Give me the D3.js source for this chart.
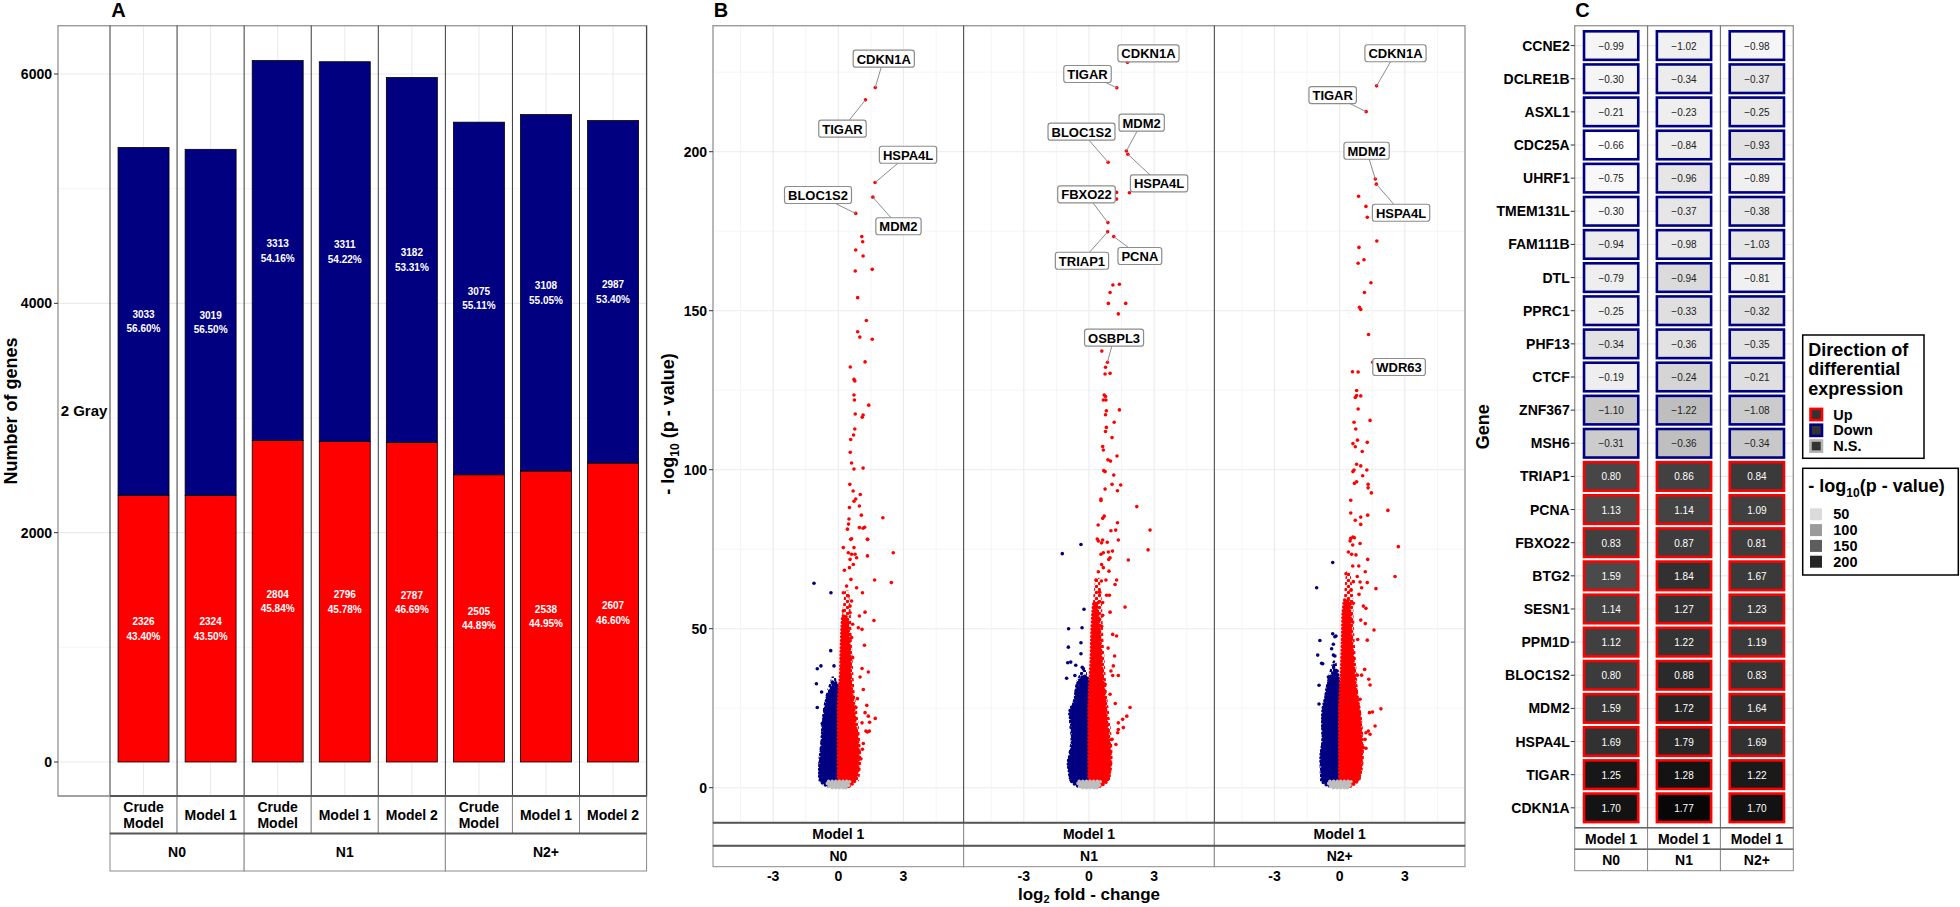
<!DOCTYPE html>
<html>
<head>
<meta charset="utf-8">
<script src="https://cdn.jsdelivr.net/npm/d3@7"></script>
<style>
  body { margin: 0; background: #fff; }
  svg text { font-family: "Liberation Sans", Arial, sans-serif; }
</style>
</head>
<body>
<svg id="fig" width="1960" height="907"></svg>
<script>
// ---------------- Panel A : number of DE genes ----------------
const barModels = ["Crude Model", "Model 1", "Crude Model", "Model 1", "Model 2", "Crude Model", "Model 1", "Model 2"];
const barGroups = ["N0", "N0", "N1", "N1", "N1", "N2+", "N2+", "N2+"];
const upCounts = [2326, 2324, 2804, 2796, 2787, 2505, 2538, 2607];
const downCounts = [3033, 3019, 3313, 3311, 3182, 3075, 3108, 2987];
const upPct = ["43.40%", "43.50%", "45.84%", "45.78%", "46.69%", "44.89%", "44.95%", "46.60%"];
const downPct = ["56.60%", "56.50%", "54.16%", "54.22%", "53.31%", "55.11%", "55.05%", "53.40%"];
const geneTicks = [0, 2000, 4000, 6000];

// ---------------- Panel B : volcano plots ----------------
const volcFacets = ["N0", "N1", "N2+"];
const fcTicks = [-3, 0, 3];
const pTicks = [0, 50, 100, 150, 200];

// solid clouds: [ -log10 p, log2FC left edge, log2FC right edge ]
const coreUpN0 = [[0.5,0,0.5],[2,0,0.75],[5,0,0.88],[10,0,0.92],[15,0,0.88],[20,0,0.78],[25,0,0.7],[30,0.03,0.62],[35,0.1,0.55],[40,0.12,0.55],[45,0.14,0.5],[50,0.17,0.45],[54,0.2,0.35]];
const coreDownN0 = [[0.5,-0.5,0],[2,-0.8,0],[5,-0.86,0],[10,-0.8,0],[15,-0.74,0],[20,-0.7,0],[24,-0.62,0],[28,-0.52,0],[31,-0.35,-0.03],[33,-0.2,-0.08]];
const coreUpN1 = [[0.5,0,0.5],[2,0,0.82],[5,0,0.95],[10,0,0.97],[15,0,0.92],[20,0,0.82],[25,0,0.76],[30,0.02,0.7],[35,0.06,0.62],[40,0.1,0.56],[45,0.12,0.52],[50,0.14,0.47],[55,0.18,0.4],[58,0.22,0.32]];
const coreDownN1 = [[0.5,-0.5,0],[2,-0.8,0],[5,-0.9,0],[8,-0.95,0],[12,-0.8,0],[16,-0.76,0],[20,-0.8,0],[24,-0.88,0],[27,-0.66,0],[30,-0.6,0],[33,-0.5,-0.03],[35,-0.3,-0.1]];
const coreUpN2 = [[0.5,0,0.5],[2,0,0.8],[5,0,0.95],[10,0,1.0],[15,0,1.0],[20,0,0.95],[25,0,0.88],[30,0.03,0.76],[35,0.07,0.68],[40,0.1,0.62],[45,0.12,0.56],[50,0.14,0.5],[55,0.16,0.47],[59,0.22,0.4]];
const coreDownN2 = [[0.5,-0.5,0],[2,-0.8,0],[5,-0.82,0],[10,-0.86,0],[15,-0.76,0],[20,-0.78,0],[25,-0.76,0],[28,-0.65,0],[32,-0.55,-0.02],[35,-0.4,-0.08],[37,-0.25,-0.12]];
const coreNS = [[0,-0.35,0.35],[0.5,-0.45,0.45],[1.2,-0.5,0.5],[2,-0.52,0.52]];
// looser (dotted) zone around the solid clouds
const haloUpN0 = [[2,0,0.95],[8,0,1.05],[15,0,1.0],[22,0,0.9],[30,0.05,0.75],[40,0.1,0.66],[50,0.15,0.6],[56,0.2,0.56],[62,0.3,0.48]];
const haloDownN0 = [[2,-0.9,0],[8,-0.92,0],[15,-0.82,0],[22,-0.75,0],[28,-0.62,0],[32,-0.45,-0.05],[35,-0.3,-0.12]];
const haloUpN1 = [[2,0,0.95],[8,0,1.08],[15,0,1.05],[22,0,0.95],[30,0.04,0.82],[40,0.1,0.72],[50,0.15,0.64],[60,0.2,0.58],[66,0.3,0.48]];
const haloDownN1 = [[2,-0.9,0],[8,-1.0,0],[15,-0.85,0],[22,-0.92,0],[28,-0.72,0],[33,-0.6,-0.03],[37,-0.35,-0.12]];
const haloUpN2 = [[2,0,0.95],[8,0,1.1],[15,0,1.1],[22,0,1.02],[30,0.04,0.85],[40,0.1,0.75],[50,0.15,0.66],[62,0.22,0.6],[68,0.3,0.48]];
const haloDownN2 = [[2,-0.9,0],[8,-0.92,0],[15,-0.84,0],[22,-0.84,0],[28,-0.72,0],[33,-0.6,-0.03],[37,-0.45,-0.1],[40,-0.3,-0.15]];

// single genes outside the dense cloud: [log2FC, -log10 p]
const volUpN0 = [[1.08,173.3],[1.12,171.7],[0.80,169.1],[1.14,167.2],[0.78,162.5],[1.56,163.0],[0.89,154.1],
  [1.29,146.9],[0.89,143.4],[0.99,141.7],[1.56,141.0],[1.23,133.9],[0.55,132.3],[0.72,128.4],[0.76,127.9],[0.72,123.5],[0.74,121.9],[1.40,120.3],[0.78,117.5],[1.14,117.2],[1.10,116.5],[0.76,112.8],[0.70,110.9],[0.57,109.5],[0.55,105.5],[0.61,102.1],[0.72,100.2],[1.14,100.5],[0.53,95.4],[0.68,93.3],[1.01,92.2],[0.80,90.8],[0.72,90.1],[0.97,88.6],[0.51,88.1],[1.06,85.7],[2.05,84.9],[0.49,84.5],[0.47,82.9],[0.42,81.3],[0.97,81.8],[1.14,81.6],[1.21,81.9],[0.61,78.3],[1.35,78.1],
  [0.57,78.1],[1.34,78.1],[0.72,75.5],[0.23,75.5],[1.34,72.9],[2.53,73.9],[0.46,73.9],[0.61,73.4],[0.84,72.3],[0.77,73.4],[0.28,68.4],[0.51,69.2],[0.69,70.2],[0.54,71.8],[0.58,65.5],[0.38,63.4],[0.84,62.9],[1.11,61.3],[1.67,65.3],[2.44,64.5],[0.23,61.3],[0.46,60.3],[0.61,58.7],[0.54,57.1],[0.23,55.6],[0.54,55.0],[0.97,54.0],[1.23,55.2],[1.64,52.6],[0.26,52.9],[0.46,51.9],[0.66,51.4],[0.92,50.3],[1.09,49.8],[0.23,48.7],[0.38,46.6],[0.61,47.2],[1.2,44.8],[0.23,43.5],[0.54,42.5],[0.66,40.9],[1.09,37.5],[1.38,36.4],[1.0,34.8],[1.15,30.9],[1.31,25.9],[1.23,23.6],[1.38,22.5],[1.70,21.8],[1.44,20.6],[1.09,20.4],[0.88,28.0],[0.81,25.2],[1.27,17.8],[1.43,17.8],[1.34,17.5],[1.15,13.9],[0.88,16.9],[1.11,12.1],[1.04,9.1],[0.97,11.0]];
const volDownN0 = [[-1.12,64.3],[-0.34,61.3],[-0.35,43.1],[-0.80,38.3],[-0.97,37.4],[-0.20,38.3],[-1.01,32.7],[-0.28,33.2],[-0.77,30.1],[-0.97,25.2],[-0.74,20.2],[-0.84,6.8]];

const volUpN1 = [[1.86,187.1],[1.27,187.2],[1.27,185.1],[1.10,158.1],[1.40,158.3],[0.97,155.7],
  [0.89,152.3],[1.69,152.3],[1.35,149.0],[0.59,137.3],[0.76,132.2],[0.74,130.1],[0.97,130.3],[0.70,123.5],[0.76,123.0],[0.66,121.9],[0.78,121.9],[1.40,118.8],[0.80,118.5],[0.76,117.3],[1.16,114.9],[0.80,113.3],[0.76,112.0],[1.06,110.1],[0.63,107.3],[0.66,106.2],[1.29,104.3],[0.87,103.1],[0.99,102.7],[0.68,99.7],[0.74,99.4],[1.14,98.3],[1.06,95.4],[1.46,95.2],[0.74,93.9],[1.31,93.4],[0.55,90.8],[0.55,90.3],[2.20,88.4],[0.70,85.4],[0.63,84.7],[1.31,83.3],[0.42,82.6],[1.23,81.0],[1.01,80.8],[2.81,81.0],[0.38,78.2],[0.63,77.9],
  [0.43,77.6],[0.58,77.0],[0.84,77.2],[1.35,77.9],[2.72,74.8],[0.66,73.9],[0.89,74.1],[1.08,74.4],[0.55,73.4],[0.97,72.3],[0.91,71.8],[1.81,71.6],[0.58,70.2],[0.92,68.1],[0.43,67.9],[0.66,69.2],
  [0.32,65.3],[0.57,65.0],[0.78,65.3],[1.27,65.3],[1.20,63.9],[0.49,61.5],[0.81,60.5],[0.94,60.5],[0.63,58.2],[0.43,58.2],[0.28,56.6],[1.66,56.8],[0.97,55.2],[0.63,54.2],[0.48,52.9],[0.58,50.8],[0.28,51.4],[1.09,48.2],[1.27,47.7],[0.88,43.9],[1.18,41.4],[1.12,38.3],[1.01,36.7],[1.35,35.3],[1.09,35.3],[0.74,32.5],[0.97,29.4],[1.21,26.5],[1.89,25.2],[1.74,22.5],[1.55,21.5],[1.35,20.4],[1.58,18.9],[1.35,18.3],[1.32,17.3],[1.06,15.2],[1.24,13.6],[0.97,11.0],[0.94,7.3]];
const volDownN1 = [[-0.37,76.5],[-1.23,73.6],[-0.23,56.1],[-0.94,50.0],[-0.32,50.3],[-0.95,44.2],[-0.37,45.6],[-0.37,42.1],[-0.98,39.3],[-0.84,39.5],[-0.61,38.5],[-0.31,37.9],[-0.26,37.4],[-1.03,34.4],[-0.65,35.3]];

const volUpN2 = [[0.87,186.0],[1.21,182.8],[1.27,179.4],[1.71,171.9],[0.89,169.9],[1.12,166.0],[0.85,164.9],[1.44,158.8],[1.14,155.7],
  [0.91,151.1],[0.97,150.4],[1.33,142.5],[0.59,130.8],[0.85,130.7],[0.78,124.9],[0.78,123.3],[0.97,123.2],[0.72,122.7],[0.85,119.1],[1.40,115.5],[0.66,114.9],[0.74,112.8],[0.82,109.3],[0.61,108.2],[0.72,107.2],[1.27,108.6],[1.04,105.7],[0.78,101.7],[0.97,101.2],[0.66,99.9],[0.61,99.4],[1.06,98.1],[1.25,99.9],[0.68,95.7],[0.78,96.2],[1.31,95.4],[1.31,94.3],[1.46,92.7],[0.51,90.4],[0.51,86.4],[0.72,84.1],[0.97,85.1],[1.29,85.7],[0.97,82.8],[2.22,87.2],[0.51,78.4],[0.61,78.8],[0.68,78.6],
  [0.48,77.6],[0.94,76.8],[0.60,76.3],[0.40,74.1],[0.55,73.4],[0.75,73.2],[2.70,75.8],[1.29,71.8],[0.6,69.7],[0.88,69.7],[1.18,67.9],[0.29,67.3],[0.81,66.4],[0.63,64.8],[0.94,64.7],[1.27,64.5],[2.55,66.4],[1.67,62.6],[0.52,62.1],[1.01,62.9],[0.89,60.8],[0.29,57.3],[0.48,57.7],[0.63,58.0],[1.09,57.1],[1.21,56.4],[0.4,55.6],[0.52,54.5],[0.4,53.5],[0.97,52.7],[1.18,51.6],[0.6,52.1],[1.58,49.6],[1.27,46.4],[0.83,46.6],[1.15,37.2],[0.81,35.4],[1.01,35.4],[1.34,34.1],[1.40,32.3],[0.94,27.8],[0.81,26.2],[0.75,24.6],[1.37,23.6],[1.51,23.8],[1.9,24.8],[0.86,22.5],[1.63,19.4],[1.32,17.8],[1.21,17.3],[1.40,16.8],[1.17,15.2],[0.94,14.2],[1.09,12.6],[1.21,12.4],[0.98,8.9]];
const volDownN2 = [[-0.32,70.8],[-1.06,62.9],[-0.32,48.4],[-0.22,47.5],[-0.17,47.7],[-0.91,46.3],[-0.37,43.7],[-0.29,45.1],[-1.01,41.7],[-0.29,41.7],[-0.22,41.4],[-0.83,39.1],[-0.78,39.0],[-0.26,38.5],[-0.52,34.8],[-0.37,34.3],[-0.45,34.9],[-0.95,32.2],[-0.95,26.3],[-0.81,11.4]];

// labelled genes: [gene, log2FC, -log10 p]
const labN0 = [["CDKN1A",1.70,220.2],["TIGAR",1.25,216.3],["HSPA4L",1.69,190.3],["MDM2",1.59,185.7],["BLOC1S2",0.80,180.6]];
const labN1 = [["CDKN1A",1.77,228.1],["TIGAR",1.28,220.1],["MDM2",1.72,200.2],["HSPA4L",1.79,199.2],["BLOC1S2",0.88,196.7],["FBXO22",0.87,177.7],["TRIAP1",0.86,174.8],["PCNA",1.14,173.3],["OSBPL3",0.85,133.8]];
const labN2 = [["CDKN1A",1.70,220.7],["TIGAR",1.22,212.6],["MDM2",1.64,191.4],["HSPA4L",1.69,189.8],["WDR63",1.52,133.8]];

// ---------------- Panel C : heatmap ----------------
const heatGroups = ["N0", "N1", "N2+"];
const genes = ["CCNE2","DCLRE1B","ASXL1","CDC25A","UHRF1","TMEM131L","FAM111B","DTL","PPRC1","PHF13","CTCF","ZNF367","MSH6",
  "TRIAP1","PCNA","FBXO22","BTG2","SESN1","PPM1D","BLOC1S2","MDM2","HSPA4L","TIGAR","CDKN1A"];
const fcN0 = [-0.99,-0.30,-0.21,-0.66,-0.75,-0.30,-0.94,-0.79,-0.25,-0.34,-0.19,-1.10,-0.31,0.80,1.13,0.83,1.59,1.14,1.12,0.80,1.59,1.69,1.25,1.70];
const fcN1 = [-1.02,-0.34,-0.23,-0.84,-0.96,-0.37,-0.98,-0.94,-0.33,-0.36,-0.24,-1.22,-0.36,0.86,1.14,0.87,1.84,1.27,1.22,0.88,1.72,1.79,1.28,1.77];
const fcN2 = [-0.98,-0.37,-0.25,-0.93,-0.89,-0.38,-1.03,-0.81,-0.32,-0.35,-0.21,-1.08,-0.34,0.84,1.09,0.81,1.67,1.23,1.19,0.83,1.64,1.69,1.22,1.70];
const pN0 = [31,31,31,24,29,29,38,36,35,45,36,64,61,170,167,176,167,173,176,180,185,190,216,220];
const pN1 = [35,38,36,37,42,42,40,50,47,45,55,72,71,175,173,178,190,187,187,197,200,199,220,228];
const pN2 = [31,42,40,45,35,42,42,35,47,45,47,62,64,181,176,178,181,181,181,186,191,190,213,221];
const dirLevels = ["Up", "Down", "N.S."];
const pLegend = [50, 100, 150, 200];

// ---------------- drawing ----------------
const RED = "#ff0000", NAVY = "#000080", GREY_NS = "#bebebe";
const svg = d3.select("#fig");

// dot textures for the looser part of the clouds
const defs = svg.append("defs");
[["dotsRed", RED], ["dotsNavy", NAVY]].forEach(([id, col]) => {
  const p = defs.append("pattern").attr("id", id).attr("patternUnits", "userSpaceOnUse").attr("width", 6).attr("height", 6);
  p.append("circle").attr("cx", 1.5).attr("cy", 1.5).attr("r", 1.75).attr("fill", col);
  p.append("circle").attr("cx", 4.5).attr("cy", 4.5).attr("r", 1.75).attr("fill", col);
});

function label(g, x, y, s, size, weight, anchor, fill) {
  return g.append("text").attr("x", x).attr("y", y).text(s)
    .attr("font-size", size).attr("font-weight", weight || "bold")
    .attr("text-anchor", anchor || "middle").attr("dominant-baseline", "central")
    .attr("fill", fill || "#000");
}

function stripCells(g, cells, y0, y1, size) {
  cells.forEach(c => {
    g.append("rect").attr("x", c.x0).attr("y", y0).attr("width", c.x1 - c.x0).attr("height", y1 - y0)
      .attr("fill", "#fff").attr("stroke", "#8a8a8a").attr("stroke-width", 1);
    const lines = c.text.split("\n");
    lines.forEach((l, k) => label(g, (c.x0 + c.x1) / 2, (y0 + y1) / 2 + (k - (lines.length - 1) / 2) * 15.5, l, size));
  });
}

function groupCells(groups, xStart, xEnd) {
  const out = [];
  groups.forEach((grp, i) => {
    const last = out[out.length - 1];
    if (last && last.text === grp) last.x1 = xEnd(i);
    else out.push({ text: grp, x0: xStart(i), x1: xEnd(i) });
  });
  return out;
}

// ===== Panel A =====
const A = { left: 58, x0: 110, right: 646.6, top: 25.7, bottom: 796 };
const gA = svg.append("g");
const aX = d3.scaleBand().domain(d3.range(upCounts.length)).range([A.x0, A.right]);
const aY = d3.scaleLinear().domain([0, 6000]).range([762, 74]);
const bars = d3.range(upCounts.length).map(i => ({
  i, up: upCounts[i], down: downCounts[i], upPct: upPct[i], downPct: downPct[i]
}));

gA.selectAll(".ming").data([1000, 3000, 5000]).join("line")
  .attr("x1", A.left).attr("x2", A.right).attr("y1", d => aY(d)).attr("y2", d => aY(d))
  .attr("stroke", "#f3f3f3").attr("stroke-width", 0.8);
gA.selectAll(".majg").data(geneTicks).join("line")
  .attr("x1", A.left).attr("x2", A.right).attr("y1", d => aY(d)).attr("y2", d => aY(d))
  .attr("stroke", "#ebebeb").attr("stroke-width", 1.1);
gA.selectAll(".vg").data(bars).join("line")
  .attr("x1", d => aX(d.i) + aX.bandwidth() / 2).attr("x2", d => aX(d.i) + aX.bandwidth() / 2)
  .attr("y1", A.top).attr("y2", A.bottom).attr("stroke", "#ebebeb").attr("stroke-width", 1.1);

const bw = aX.bandwidth() * 0.76;
gA.selectAll(".barUp").data(bars).join("rect")
  .attr("x", d => aX(d.i) + (aX.bandwidth() - bw) / 2).attr("width", bw)
  .attr("y", d => aY(d.up)).attr("height", d => aY(0) - aY(d.up))
  .attr("fill", RED).attr("stroke", "#000").attr("stroke-width", 0.8);
gA.selectAll(".barDown").data(bars).join("rect")
  .attr("x", d => aX(d.i) + (aX.bandwidth() - bw) / 2).attr("width", bw)
  .attr("y", d => aY(d.up + d.down)).attr("height", d => aY(d.up) - aY(d.up + d.down))
  .attr("fill", NAVY).attr("stroke", "#000").attr("stroke-width", 0.8);

bars.forEach(d => {
  const cx = aX(d.i) + aX.bandwidth() / 2;
  const yu = aY(d.up / 2), yd = aY(d.up + d.down / 2);
  label(gA, cx, yd - 7, d.down, 10, "bold", "middle", "#fff");
  label(gA, cx, yd + 7.5, d.downPct, 10, "bold", "middle", "#fff");
  label(gA, cx, yu - 7, d.up, 10, "bold", "middle", "#fff");
  label(gA, cx, yu + 7.5, d.upPct, 10, "bold", "middle", "#fff");
});

// frame and facet dividers
gA.append("rect").attr("x", A.left).attr("y", A.top).attr("width", A.right - A.left).attr("height", A.bottom - A.top)
  .attr("fill", "none").attr("stroke", "#9a9a9a").attr("stroke-width", 1.4);
gA.selectAll(".div").data(d3.range(upCounts.length + 1)).join("line")
  .attr("x1", i => A.x0 + i * aX.step()).attr("x2", i => A.x0 + i * aX.step())
  .attr("y1", A.top).attr("y2", A.bottom).attr("stroke", "#3a3a3a").attr("stroke-width", 1);
label(gA, 84, (A.top + A.bottom) / 2, "2 Gray", 15, "bold");

// y axis
gA.selectAll(".tk").data(geneTicks).join("line")
  .attr("x1", A.left - 4).attr("x2", A.left).attr("y1", d => aY(d)).attr("y2", d => aY(d))
  .attr("stroke", "#333").attr("stroke-width", 1);
geneTicks.forEach(t => label(gA, A.left - 6, aY(t), t, 14, "bold", "end"));
label(gA, 11, 411, "Number of genes", 18, "bold").attr("transform", "rotate(-90,11,411)");

// strips
stripCells(gA, bars.map(d => ({ text: barModels[d.i].replace("Crude ", "Crude\n"), x0: aX(d.i), x1: aX(d.i) + aX.bandwidth() })), 796, 833.5, 14);
stripCells(gA, groupCells(barGroups, i => aX(i), i => aX(i) + aX.bandwidth()), 833.5, 871, 14);
[796, 833.5].forEach(y => gA.append("line").attr("x1", A.x0).attr("x2", A.right).attr("y1", y).attr("y2", y)
  .attr("stroke", "#555").attr("stroke-width", 2));
gA.append("line").attr("x1", A.left).attr("x2", A.x0).attr("y1", A.bottom).attr("y2", A.bottom).attr("stroke", "#9a9a9a").attr("stroke-width", 1.4);
label(svg, 118.5, 10, "A", 20, "bold");

// ===== Panel B =====
const B = { left: 713, right: 1465, top: 25.7, bottom: 822.7 };
const gB = svg.append("g");
const bFacet = d3.scaleBand().domain(volcFacets).range([B.left, B.right]);
const bY = d3.scaleLinear().domain([0, 200]).range([787.7, 151.7]);
const bXof = f => d3.scaleLinear().domain([-5.77, 5.77]).range([bFacet(f), bFacet(f) + bFacet.bandwidth()]);

const volc = {
  "N0": { up: volUpN0, down: volDownN0, coreUp: coreUpN0, coreDown: coreDownN0, haloUp: haloUpN0, haloDown: haloDownN0, lab: labN0 },
  "N1": { up: volUpN1, down: volDownN1, coreUp: coreUpN1, coreDown: coreDownN1, haloUp: haloUpN1, haloDown: haloDownN1, lab: labN1 },
  "N2+": { up: volUpN2, down: volDownN2, coreUp: coreUpN2, coreDown: coreDownN2, haloUp: haloUpN2, haloDown: haloDownN2, lab: labN2 }
};
// label placement (pixels from the point), as ggrepel left them
const labelNudge = {
  "N0": { CDKN1A: [8.5, -28.8], TIGAR: [-23, 28.8], HSPA4L: [33, -27.8], MDM2: [25.6, 29.1], BLOC1S2: [-37.7, -18.4] },
  "N1": { CDKN1A: [21, -9], TIGAR: [-29.3, -13.8], MDM2: [15.3, -28.4], HSPA4L: [31.2, 29.1], BLOC1S2: [-26.6, -30.5],
          FBXO22: [-21.4, -28.3], TRIAP1: [-25.7, 28.9], PCNA: [26.1, 19.4], OSBPL3: [6.6, -24.5] },
  "N2+": { CDKN1A: [18.9, -32.6], TIGAR: [-33.5, -16.6], MDM2: [-8.7, -28.3], HSPA4L: [24.7, 28.6], WDR63: [26.4, 4.8] }
};

const yMinor = d3.range(0, 226, 25);
const xGrid = [-4.5, -3, -1.5, 0, 1.5, 3, 4.5];
volcFacets.forEach(f => {
  const x = bXof(f), g = gB.append("g");
  g.selectAll(".hg").data(yMinor).join("line")
    .attr("x1", bFacet(f)).attr("x2", bFacet(f) + bFacet.bandwidth()).attr("y1", d => bY(d)).attr("y2", d => bY(d))
    .attr("stroke", d => d % 50 === 0 ? "#ebebeb" : "#f3f3f3").attr("stroke-width", d => d % 50 === 0 ? 1.1 : 0.8);
  g.selectAll(".vg").data(xGrid).join("line")
    .attr("x1", d => x(d)).attr("x2", d => x(d)).attr("y1", B.top).attr("y2", B.bottom)
    .attr("stroke", d => d % 3 === 0 ? "#ebebeb" : "#f3f3f3").attr("stroke-width", d => d % 3 === 0 ? 1.1 : 0.8);

  const area = d3.area().curve(d3.curveCatmullRom).y(d => bY(d[0])).x0(d => x(d[1])).x1(d => x(d[2]));
  const v = volc[f];
  // loose dotted zone
  [[v.haloDown, "url(#dotsNavy)"], [v.haloUp, "url(#dotsRed)"]].forEach(([rows, fill]) => {
    g.append("path").datum(rows).attr("d", area).attr("fill", fill);
  });
  // solid clouds with a dotted rim
  [[v.coreDown, NAVY], [v.coreUp, RED], [coreNS, GREY_NS]].forEach(([rows, col]) => {
    g.append("path").datum(rows).attr("d", area).attr("fill", col);
    g.append("path").datum(rows).attr("d", area).attr("fill", "none")
      .attr("stroke", col).attr("stroke-width", 3.6).attr("stroke-linecap", "round").attr("stroke-dasharray", "0,3.6");
  });
  g.selectAll(".pd").data(v.down).join("circle")
    .attr("cx", d => x(d[0])).attr("cy", d => bY(d[1])).attr("r", 1.8).attr("fill", NAVY);
  g.selectAll(".pu").data(v.up.concat(v.lab.map(d => [d[1], d[2]]))).join("circle")
    .attr("cx", d => x(d[0])).attr("cy", d => bY(d[1])).attr("r", 1.8).attr("fill", RED);

  // repel-style labels
  v.lab.forEach(([name, fc, p]) => {
    const px = x(fc), py = bY(p);
    const nd = labelNudge[f][name];
    const cx = px + nd[0], cy = py + nd[1];
    const t = label(g, cx, cy + 0.5, name, 13, "bold");
    const w = t.node().getComputedTextLength() + 7, h = 17;
    const dx = px - cx, dy = py - cy;
    const s = Math.min(Math.abs(dx) > 0 ? (w / 2) / Math.abs(dx) : Infinity, Math.abs(dy) > 0 ? (h / 2) / Math.abs(dy) : Infinity);
    if (s < 1) {
      g.insert("line", "text").attr("x1", px).attr("y1", py).attr("x2", cx + dx * s).attr("y2", cy + dy * s)
        .attr("stroke", "#8c8c8c").attr("stroke-width", 1);
    }
    g.insert("rect", "text").attr("x", cx - w / 2).attr("y", cy - h / 2).attr("width", w).attr("height", h)
      .attr("rx", 2.5).attr("fill", "#fff").attr("stroke", "#8c8c8c").attr("stroke-width", 1.2);
    t.raise();
  });

  fcTicks.forEach(tk => label(gB, x(tk), 875.5, tk, 14, "bold"));
});

gB.append("rect").attr("x", B.left).attr("y", B.top).attr("width", B.right - B.left).attr("height", B.bottom - B.top)
  .attr("fill", "none").attr("stroke", "#9a9a9a").attr("stroke-width", 1.4);
volcFacets.slice(1).forEach(f => gB.append("line").attr("x1", bFacet(f)).attr("x2", bFacet(f))
  .attr("y1", B.top).attr("y2", 866.7).attr("stroke", "#3a3a3a").attr("stroke-width", 1));
pTicks.forEach(t => {
  gB.append("line").attr("x1", B.left - 4).attr("x2", B.left).attr("y1", bY(t)).attr("y2", bY(t)).attr("stroke", "#333");
  label(gB, B.left - 6, bY(t), t, 14, "bold", "end");
});
stripCells(gB, volcFacets.map(f => ({ text: "Model 1", x0: bFacet(f), x1: bFacet(f) + bFacet.bandwidth() })), 822.7, 845.7, 14);
stripCells(gB, volcFacets.map(f => ({ text: f, x0: bFacet(f), x1: bFacet(f) + bFacet.bandwidth() })), 845.7, 866.7, 14);
[822.7, 845.7].forEach(y => gB.append("line").attr("x1", B.left).attr("x2", B.right).attr("y1", y).attr("y2", y)
  .attr("stroke", "#555").attr("stroke-width", 2));

// axis titles with subscripts
const xt = gB.append("text").attr("x", (B.left + B.right) / 2).attr("y", 900).attr("text-anchor", "middle")
  .attr("font-size", 17).attr("font-weight", "bold");
xt.append("tspan").text("log");
xt.append("tspan").text("2").attr("font-size", 11).attr("dy", 3);
xt.append("tspan").text(" fold - change").attr("dy", -3);
const yt = gB.append("text").attr("transform", "translate(674,424) rotate(-90)").attr("text-anchor", "middle")
  .attr("font-size", 18).attr("font-weight", "bold");
yt.append("tspan").text("- log");
yt.append("tspan").text("10").attr("font-size", 12).attr("dy", 5);
yt.append("tspan").text(" (p - value)").attr("dy", -5);
label(svg, 721, 10, "B", 20, "bold");

// ===== Panel C =====
const C = { left: 1574.7, right: 1793.3, top: 25.7, bottom: 827.7 };
const gC = svg.append("g");
const cFacet = d3.scaleBand().domain(heatGroups).range([C.left, C.right]);
const cY = d3.scalePoint().domain(genes).range([C.top, C.bottom]).padding(0.6);
const fillScale = d3.scaleLinear().domain([24, 232]).range(["#ffffff", "#000000"]).interpolate(d3.interpolateLab);
const fcBy = { "N0": fcN0, "N1": fcN1, "N2+": fcN2 };
const pBy = { "N0": pN0, "N1": pN1, "N2+": pN2 };
const cells = [];
heatGroups.forEach(grp => genes.forEach((gname, i) => cells.push({ grp, gene: gname, fc: fcBy[grp][i], p: pBy[grp][i] })));

heatGroups.forEach(grp => {
  gC.selectAll(null).data(genes).join("line")
    .attr("x1", cFacet(grp)).attr("x2", cFacet(grp) + cFacet.bandwidth())
    .attr("y1", d => cY(d)).attr("y2", d => cY(d)).attr("stroke", "#ebebeb").attr("stroke-width", 1.1);
});
const tw = cFacet.bandwidth() * 0.78, th = cY.step() - 2;
gC.selectAll(".tile").data(cells).join("rect")
  .attr("x", d => cFacet(d.grp) + (cFacet.bandwidth() - tw) / 2 + 1.3).attr("width", tw - 2.6)
  .attr("y", d => cY(d.gene) - th / 2 + 1.3).attr("height", th - 2.6)
  .attr("fill", d => fillScale(d.p)).attr("stroke", d => d.fc > 0 ? RED : NAVY).attr("stroke-width", 2.6);
cells.forEach(d => label(gC, cFacet(d.grp) + cFacet.bandwidth() / 2, cY(d.gene) + 0.5, d3.format(".2f")(d.fc), 10, "normal", "middle",
  d.p > 120 ? "#fff" : "#222"));

gC.append("rect").attr("x", C.left).attr("y", C.top).attr("width", C.right - C.left).attr("height", C.bottom - C.top)
  .attr("fill", "none").attr("stroke", "#9a9a9a").attr("stroke-width", 1.4);
heatGroups.slice(1).forEach(grp => gC.append("line").attr("x1", cFacet(grp)).attr("x2", cFacet(grp))
  .attr("y1", C.top).attr("y2", 870.7).attr("stroke", "#777").attr("stroke-width", 1.2));
genes.forEach(gname => {
  gC.append("line").attr("x1", C.left - 4).attr("x2", C.left).attr("y1", cY(gname)).attr("y2", cY(gname)).attr("stroke", "#333");
  label(gC, C.left - 5, cY(gname), gname, 14, "bold", "end");
});
label(gC, 1483, (C.top + C.bottom) / 2, "Gene", 18, "bold").attr("transform", `rotate(-90,1483,${(C.top + C.bottom) / 2})`);
stripCells(gC, heatGroups.map(grp => ({ text: "Model 1", x0: cFacet(grp), x1: cFacet(grp) + cFacet.bandwidth() })), 827.7, 849.3, 14);
stripCells(gC, heatGroups.map(grp => ({ text: grp, x0: cFacet(grp), x1: cFacet(grp) + cFacet.bandwidth() })), 849.3, 870.7, 14);
[827.7, 849.3].forEach(y => gC.append("line").attr("x1", C.left).attr("x2", C.right).attr("y1", y).attr("y2", y)
  .attr("stroke", "#666").attr("stroke-width", 1.6));
label(svg, 1582.5, 10, "C", 20, "bold");

// legends
const gL = svg.append("g");
gL.append("rect").attr("x", 1802.7).attr("y", 335).attr("width", 121.3).attr("height", 123.3)
  .attr("fill", "#fff").attr("stroke", "#000").attr("stroke-width", 1.5);
["Direction of", "differential", "expression"].forEach((s, k) => label(gL, 1808.3, 349.5 + k * 19.8, s, 18, "bold", "start"));
const dirColor = { "Up": RED, "Down": NAVY, "N.S.": "#b4b4b4" };
dirLevels.forEach((lv, k) => {
  const cy = 414.5 + k * 15.8;
  gL.append("rect").attr("x", 1810.5).attr("y", cy - 5.6).attr("width", 11.5).attr("height", 11.2)
    .attr("fill", "#333").attr("stroke", dirColor[lv]).attr("stroke-width", 2.6);
  label(gL, 1833.3, cy, lv, 14.5, "bold", "start");
});
gL.append("rect").attr("x", 1802.7).attr("y", 468.3).attr("width", 155.6).attr("height", 106.7)
  .attr("fill", "#fff").attr("stroke", "#000").attr("stroke-width", 1.5);
const lt = gL.append("text").attr("x", 1808.3).attr("y", 491.5).attr("font-size", 18).attr("font-weight", "bold");
lt.append("tspan").text("- log");
lt.append("tspan").text("10").attr("font-size", 12).attr("dy", 5);
lt.append("tspan").text("(p - value)").attr("dy", -5);
pLegend.forEach((v, k) => {
  const cy = 514.3 + k * 15.8;
  gL.append("rect").attr("x", 1810).attr("y", cy - 6).attr("width", 12).attr("height", 12).attr("fill", fillScale(v));
  label(gL, 1833.3, cy, v, 14.5, "bold", "start");
});
</script>
</body>
</html>
